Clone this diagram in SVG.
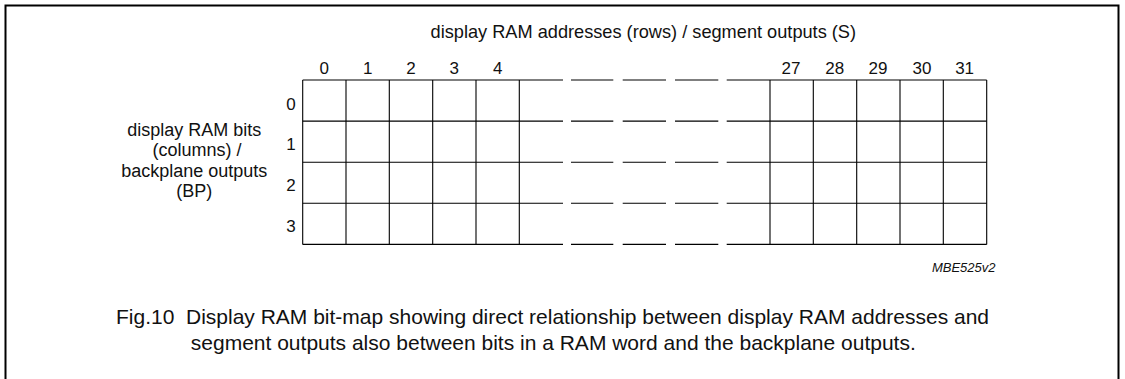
<svg xmlns="http://www.w3.org/2000/svg" width="1125" height="379" viewBox="0 0 1125 379">
<style>
text { font-family: "Liberation Sans", Arial, sans-serif; fill: #111; }
.lbl { font-size: 18px; text-anchor: middle; }
.ttl { font-size: 18.2px; text-anchor: middle; }
.num { font-size: 17px; text-anchor: middle; }
.cap { font-size: 21px; text-anchor: middle; }
.code { font-size: 13px; font-style: italic; text-anchor: end; }
.g { stroke: #000; stroke-width: 1.1; fill: none; }
</style>
<rect width="1125" height="379" fill="#fff"/>
<g id="frame">
<path d="M5.5 380 V5.5 H1118.5 V380" fill="none" stroke="#000" stroke-width="2"/>
</g>
<g id="title">
<text class="ttl" x="643.3" y="37.5">display RAM addresses (rows) / segment outputs (S)</text>
</g>
<g id="side-label">
<text class="lbl" x="194.2" y="136">display RAM bits</text>
<text class="lbl" x="197" y="156.3">(columns) /</text>
<text class="lbl" x="194.2" y="176.6">backplane outputs</text>
<text class="lbl" x="194.2" y="196.9">(BP)</text>
</g>
<g id="column-labels">
<text class="num" x="324.3" y="74">0</text>
<text class="num" x="367.7" y="74">1</text>
<text class="num" x="411" y="74">2</text>
<text class="num" x="454.3" y="74">3</text>
<text class="num" x="497.7" y="74">4</text>
<text class="num" x="791" y="74">27</text>
<text class="num" x="834.8" y="74">28</text>
<text class="num" x="878" y="74">29</text>
<text class="num" x="921.9" y="74">30</text>
<text class="num" x="964.6" y="74">31</text>
</g>
<g id="row-labels">
<text class="num" x="291" y="110">0</text>
<text class="num" x="291" y="149.5">1</text>
<text class="num" x="291" y="190.5">2</text>
<text class="num" x="291" y="231.5">3</text>
</g>
<g id="grid">
<path class="g" d="M302.7 80 V244.4 M346 80 V244.4 M389.3 80 V244.4 M432.7 80 V244.4 M476 80 V244.4 M519.3 80 V244.4 M770 80 V244.4 M813.3 80 V244.4 M856.7 80 V244.4 M900 80 V244.4 M943.3 80 V244.4 M986.7 80 V244.4"/>
<path class="g" d="M302.7 80 H563 M571 80 H613.3 M622.7 80 H666 M675 80 H718.3 M726.7 80 H986.7
M302.7 121.1 H563 M571 121.1 H613.3 M622.7 121.1 H666 M675 121.1 H718.3 M726.7 121.1 H986.7
M302.7 162.2 H563 M571 162.2 H613.3 M622.7 162.2 H666 M675 162.2 H718.3 M726.7 162.2 H986.7
M302.7 203.3 H563 M571 203.3 H613.3 M622.7 203.3 H666 M675 203.3 H718.3 M726.7 203.3 H986.7
M302.7 244.4 H563 M571 244.4 H613.3 M622.7 244.4 H666 M675 244.4 H718.3 M726.7 244.4 H986.7"/>
</g>
<g id="connectors"></g>
<g id="code">
<text class="code" x="995.5" y="271.7">MBE525v2</text>
</g>
<g id="caption">
<text class="cap" x="552.5" y="323.5" xml:space="preserve">Fig.10  Display RAM bit-map showing direct relationship between display RAM addresses and</text>
<text class="cap" x="553.3" y="349.5">segment outputs also between bits in a RAM word and the backplane outputs.</text>
</g>
</svg>
